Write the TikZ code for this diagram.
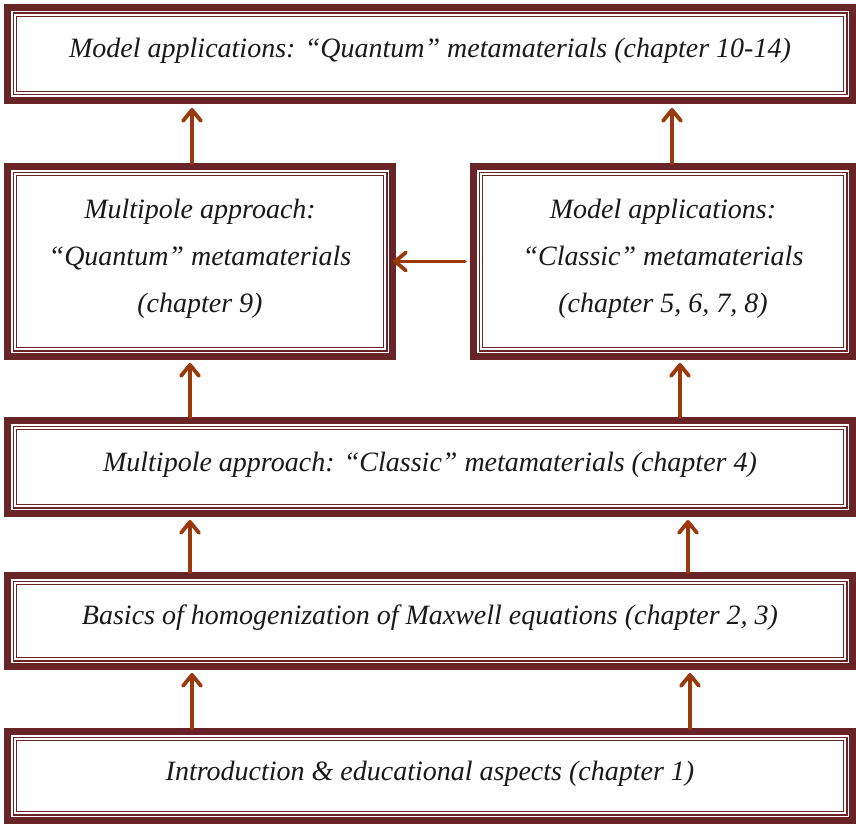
\documentclass[tikz,border=0pt]{standalone}
\usepackage{fontspec}
\setmainfont{Liberation Serif}
\usetikzlibrary{arrows.meta}

\definecolor{frameclr}{HTML}{682426}
\definecolor{arrowclr}{HTML}{993A0C}

\tikzset{
  panel/.style={draw=none, inner sep=0pt, outer sep=0pt, rectangle},
  caption/.style={inner sep=0pt, align=center, text=black!90,
    font=\fontsize{28}{47}\selectfont\itshape},
  uparrow/.style={draw=arrowclr, line width=3.8pt, line cap=round,
    -{Straight Barb[length=11pt,width=18pt,line cap=round,line join=round]}},
}

% triple frame: heavy outer band, then two thin inner lines
\newcommand{\frameit}[1]{%
  \draw[frameclr, line width=7pt]
    ([xshift=3.5pt,yshift=-3.5pt]#1.north west) rectangle ([xshift=-3.5pt,yshift=3.5pt]#1.south east);
  \draw[frameclr, line width=1.6pt]
    ([xshift=9.3pt,yshift=-9.3pt]#1.north west) rectangle ([xshift=-9.3pt,yshift=9.3pt]#1.south east);
  \draw[frameclr, line width=1.2pt]
    ([xshift=12.2pt,yshift=-12.2pt]#1.north west) rectangle ([xshift=-12.2pt,yshift=12.2pt]#1.south east);
}

\begin{document}
\begin{tikzpicture}[x=1pt,y=-1pt]
  \useasboundingbox[fill=white] (0,0) rectangle (856,824);

  \node[panel, minimum width=852pt, minimum height=100pt] (quant) at (430,54) {};
  \node[panel, minimum width=392pt, minimum height=197pt] (mpq) at (200,261.5) {};
  \node[panel, minimum width=386pt, minimum height=197pt] (classic) at (663,261.5) {};
  \node[panel, minimum width=852pt, minimum height=100pt] (mpc) at (430,467) {};
  \node[panel, minimum width=852pt, minimum height=98pt] (homog) at (430,621) {};
  \node[panel, minimum width=852pt, minimum height=96pt] (intro) at (430,776) {};

  \foreach \n in {quant,mpq,classic,mpc,homog,intro} {\frameit{\n}}

  % captions, set a little above each panel's centre
  \node[caption] (quant-t) at ([yshift=3pt]quant.center)
    {Model applications: “Quantum” metamaterials (chapter 10-14)};
  \node[caption] (mpq-t) at ([yshift=3pt]mpq.center)
    {Multipole approach:\\“Quantum” metamaterials\\(chapter 9)};
  \node[caption] (classic-t) at ([yshift=3pt]classic.center)
    {Model applications:\\“Classic” metamaterials\\(chapter 5, 6, 7, 8)};
  \node[caption] (mpc-t) at ([yshift=2pt]mpc.center)
    {Multipole approach: “Classic” metamaterials (chapter 4)};
  \node[caption] (homog-t) at ([yshift=3pt]homog.center)
    {Basics of homogenization of Maxwell equations (chapter 2, 3)};
  \node[caption] (intro-t) at ([yshift=2pt]intro.center)
    {Introduction \& educational aspects (chapter 1)};

  % connectors
  \draw[uparrow, shorten >=4pt] (mpq.north -| 192,0) -- (quant.south -| 192,0);
  \draw[uparrow, shorten >=4pt] (classic.north -| 672,0) -- (quant.south -| 672,0);
  \draw[uparrow, shorten <=5pt, shorten >=-3pt] (classic.west) -- (mpq.east);
  \draw[uparrow, shorten >=3pt] (mpc.north -| 190,0) -- (mpq.south -| 190,0);
  \draw[uparrow, shorten >=3pt] (mpc.north -| 680,0) -- (classic.south -| 680,0);
  \draw[uparrow, shorten >=3pt] (homog.north -| 190,0) -- (mpc.south -| 190,0);
  \draw[uparrow, shorten >=3pt] (homog.north -| 688,0) -- (mpc.south -| 688,0);
  \draw[uparrow, shorten >=3pt] (intro.north -| 192,0) -- (homog.south -| 192,0);
  \draw[uparrow, shorten >=3pt] (intro.north -| 690,0) -- (homog.south -| 690,0);
\end{tikzpicture}
\end{document}
